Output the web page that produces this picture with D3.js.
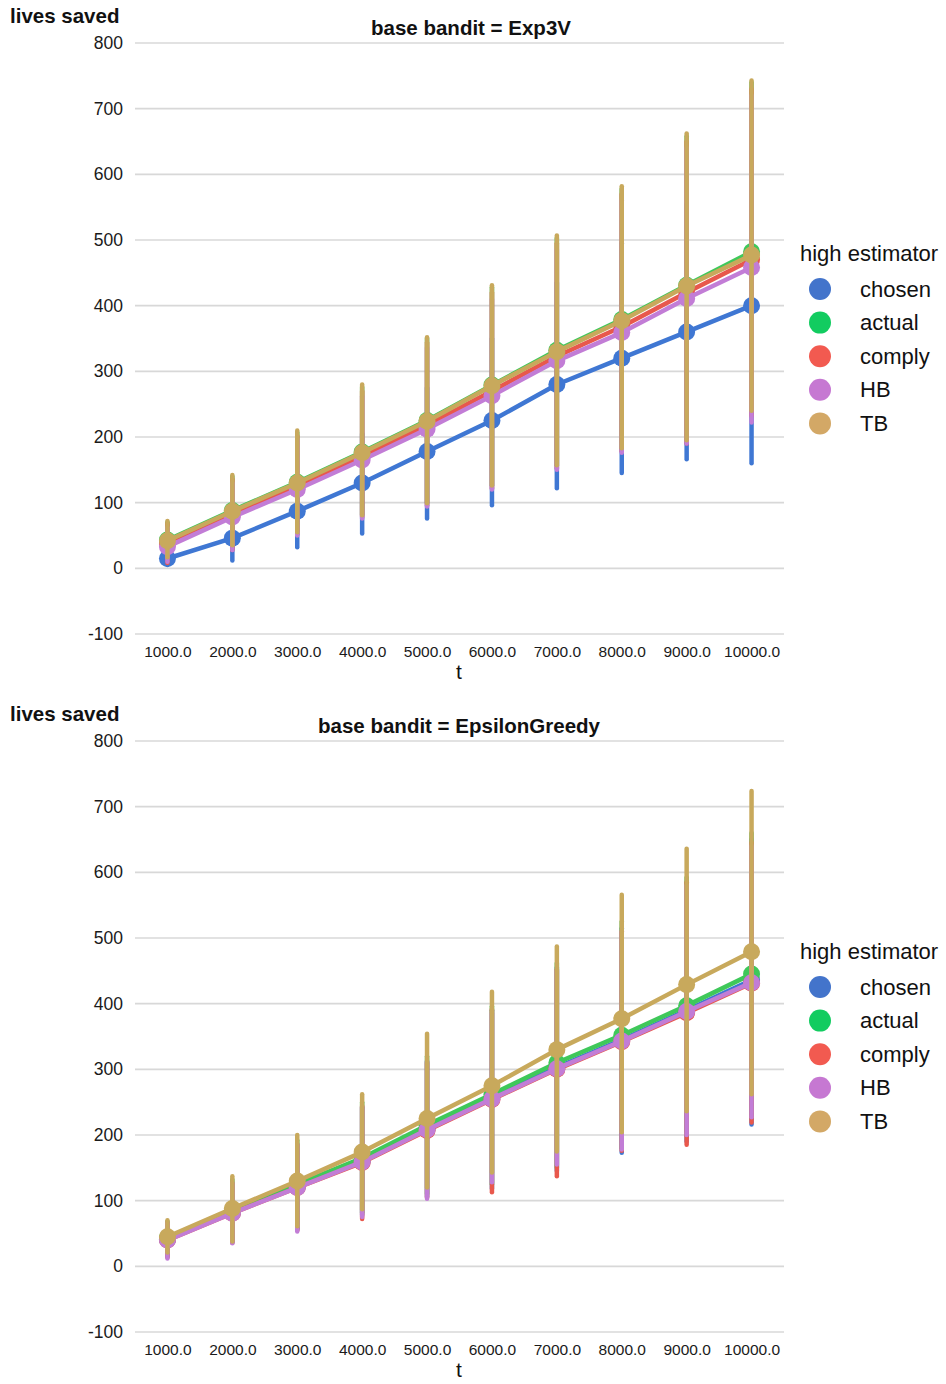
<!DOCTYPE html>
<html><head><meta charset="utf-8">
<script src="https://cdn.jsdelivr.net/npm/d3@7"></script>
<style>body{margin:0;background:#fff;font-family:"Liberation Sans",Arial,sans-serif;}</style>
</head><body>
<svg id="chart" width="946" height="1384"></svg>
<script>
const tLabels = ["1000.0","2000.0","3000.0","4000.0","5000.0","6000.0","7000.0","8000.0","9000.0","10000.0"];
const yTicks = [-100,0,100,200,300,400,500,600,700,800];
const seriesNames = ["chosen","actual","comply","HB","TB"];
const colors = ["#4374cb","#12cc60","#f25a50","#c678d2","#d3a866"];
const lineColors = ["#3f77d3","#3fc85a","#e8584c","#c27dd6","#c8a95c"];
const panelTitles = ["base bandit = Exp3V","base bandit = EpsilonGreedy"];

// Panel 1: Exp3V
const exp3vMean = {
  chosen: [15, 46, 87, 130, 178, 225, 280, 320, 360, 400],
  actual: [43, 88, 131, 177, 225, 279, 332, 379, 431, 482],
  comply: [37, 82, 125, 171, 218, 270, 323, 368, 420, 470],
  HB:     [33, 78, 120, 165, 212, 263, 316, 359, 411, 458],
  TB:     [42, 87, 130, 176, 224, 278, 330, 377, 430, 477]
};
const exp3vLo = {
  chosen: [5, 12, 32, 53, 76, 96, 122, 145, 166, 160],
  actual: [16, 33, 57, 82, 100, 126, 157, 183, 195, 240],
  comply: [8, 28, 52, 78, 96, 122, 152, 178, 190, 232],
  HB:     [10, 28, 50, 76, 94, 120, 150, 176, 190, 222],
  TB:     [17, 35, 55, 81, 99, 126, 157, 183, 195, 240]
};
const exp3vHi = {
  chosen: [28, 80, 140, 205, 275, 350, 435, 495, 555, 640],
  actual: [70, 140, 207, 276, 350, 428, 503, 578, 658, 740],
  comply: [68, 136, 202, 270, 344, 420, 495, 570, 650, 730],
  HB:     [62, 130, 195, 262, 336, 410, 485, 560, 640, 720],
  TB:     [72, 142, 210, 280, 352, 431, 507, 582, 662, 743]
};

// Panel 2: EpsilonGreedy
const egMean = {
  chosen: [41, 82, 121, 160, 209, 257, 303, 345, 390, 436],
  actual: [43, 85, 125, 165, 215, 262, 310, 352, 397, 445],
  comply: [40, 81, 120, 158, 207, 254, 300, 342, 386, 431],
  HB:     [40, 81, 120, 159, 208, 255, 301, 343, 388, 432],
  TB:     [45, 88, 130, 174, 225, 275, 330, 377, 429, 479]
};
const egLo = {
  chosen: [15, 37, 56, 78, 106, 118, 145, 173, 190, 216],
  actual: [18, 38, 58, 82, 110, 125, 150, 180, 205, 232],
  comply: [14, 36, 55, 72, 105, 113, 137, 176, 185, 219],
  HB:     [12, 35, 53, 75, 103, 128, 155, 178, 200, 227],
  TB:     [21, 38, 61, 87, 120, 143, 175, 204, 236, 262]
};
const egHi = {
  chosen: [66, 127, 186, 242, 312, 390, 455, 515, 585, 650],
  actual: [68, 132, 192, 250, 320, 396, 462, 525, 592, 660],
  comply: [66, 126, 185, 244, 310, 392, 452, 510, 585, 645],
  HB:     [66, 127, 186, 243, 313, 385, 450, 510, 580, 640],
  TB:     [70, 137, 200, 262, 354, 418, 487, 566, 636, 724]
};

const panels = [
  {mean: exp3vMean, lo: exp3vLo, hi: exp3vHi, top: 43, titleX: 471},
  {mean: egMean, lo: egLo, hi: egHi, top: 741, titleX: 459}
];

const svg = d3.select("#chart");
const plotLeft = 135, plotRight = 784;
const FONT = "Liberation Sans, Arial, sans-serif";

panels.forEach((p, pi) => {
  const g = svg.append("g");
  const y = d3.scaleLinear().domain([-100, 800]).range([p.top + 591, p.top]);
  const x = d3.scalePoint().domain(tLabels).range([plotLeft, plotRight]).padding(0.5);

  // gridlines
  g.append("g").selectAll("line").data(yTicks).join("line")
    .attr("x1", plotLeft).attr("x2", plotRight)
    .attr("y1", d => y(d)).attr("y2", d => y(d))
    .attr("stroke", "#d8d8d8").attr("stroke-width", 1.6);

  // y axis labels
  const ya = g.append("g").attr("transform", `translate(${plotLeft},0)`)
    .call(d3.axisLeft(y).tickValues(yTicks).tickSize(0).tickPadding(12).tickFormat(d => String(d)));
  ya.select(".domain").remove();
  ya.selectAll("text").attr("font-size", 17.5).attr("font-family", FONT).attr("fill", "#1a1a1a");

  // x axis labels
  const xa = g.append("g").attr("transform", `translate(0,${p.top + 591})`)
    .call(d3.axisBottom(x).tickSize(0).tickPadding(12));
  xa.select(".domain").remove();
  xa.selectAll("text").attr("font-size", 15.5).attr("font-family", FONT).attr("fill", "#1a1a1a");

  g.append("text").attr("x", 459).attr("y", p.top + 636).attr("text-anchor", "middle")
    .attr("font-family", FONT).attr("font-size", 21).attr("fill", "#111").text("t");

  g.append("text").attr("x", 10).attr("y", p.top - 20).attr("font-size", 20.5)
    .attr("font-family", FONT).attr("font-weight", "bold").attr("fill", "#111").text("lives saved");
  g.append("text").attr("x", p.titleX).attr("y", p.top - 8).attr("text-anchor", "middle")
    .attr("font-family", FONT).attr("font-size", 20.5).attr("font-weight", "bold").attr("fill", "#111").text(panelTitles[pi]);

  // series
  seriesNames.forEach((s, si) => {
    const sg = g.append("g");
    const pts = tLabels.map((t, i) => ({t, m: p.mean[s][i], lo: p.lo[s][i], hi: p.hi[s][i]}));
    sg.append("path").datum(pts)
      .attr("d", d3.line().x(d => x(d.t)).y(d => y(d.m)))
      .attr("fill", "none").attr("stroke", lineColors[si]).attr("stroke-width", 4.5)
      .attr("stroke-linejoin", "round");
    sg.selectAll("line.err").data(pts).join("line").attr("class", "err")
      .attr("x1", d => x(d.t)).attr("x2", d => x(d.t))
      .attr("y1", d => y(d.lo)).attr("y2", d => y(d.hi))
      .attr("stroke", lineColors[si]).attr("stroke-width", 4.5).attr("stroke-linecap", "round");
    sg.selectAll("circle").data(pts).join("circle")
      .attr("cx", d => x(d.t)).attr("cy", d => y(d.m)).attr("r", 8.5)
      .attr("fill", lineColors[si]);
  });

  // legend
  const lg = g.append("g");
  const ly0 = p.top + 211;
  lg.append("text").attr("x", 800).attr("y", ly0 + 7).attr("font-family", FONT)
    .attr("font-size", 22).attr("fill", "#111").text("high estimator");
  seriesNames.forEach((s, si) => {
    const cy = ly0 + 35 + si * 33.6;
    lg.append("circle").attr("cx", 820).attr("cy", cy).attr("r", 11).attr("fill", colors[si]);
    lg.append("text").attr("x", 860).attr("y", cy + 7.5).attr("font-family", FONT)
      .attr("font-size", 22).attr("fill", "#111").text(s);
  });
});
</script>
</body></html>
